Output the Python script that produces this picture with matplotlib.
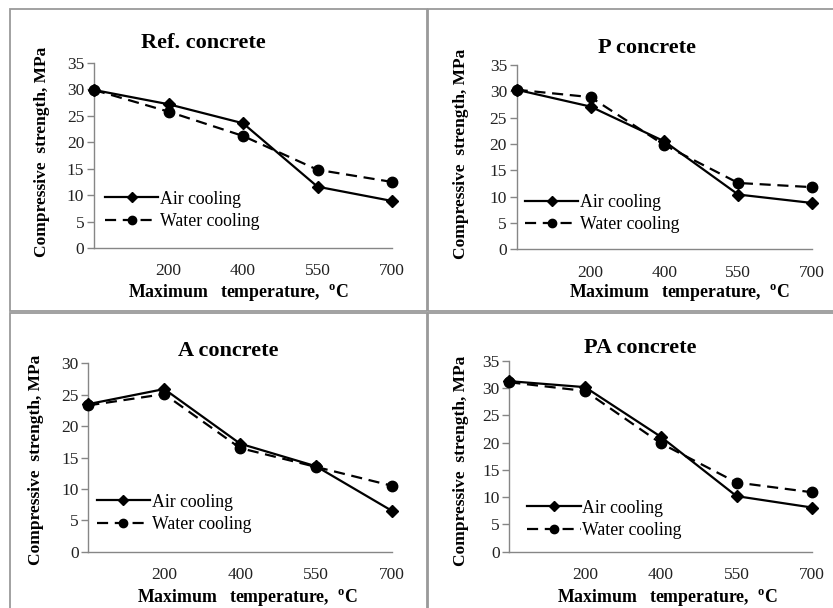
import matplotlib
matplotlib.use("Agg")
import matplotlib.pyplot as plt
from matplotlib.patches import Rectangle

plt.rcParams['font.family'] = ['Liberation Serif', 'DejaVu Serif']
plt.rcParams['mathtext.fontset'] = 'custom'
plt.rcParams['mathtext.rm'] = 'Liberation Serif'
plt.rcParams['mathtext.bf'] = 'Liberation Serif:bold'

categories = ['', '200', '400', '550', '700']

ref_air = [29.9, 27.2, 23.6, 11.6, 8.9]
ref_water = [29.9, 25.8, 21.2, 14.8, 12.5]
p_air = [30.3, 27.1, 20.5, 10.4, 8.8]
p_water = [30.3, 28.9, 19.8, 12.6, 11.8]
a_air = [23.5, 25.9, 17.2, 13.6, 6.5]
a_water = [23.3, 25.1, 16.5, 13.5, 10.5]
pa_air = [31.3, 30.2, 21.1, 10.2, 8.1]
pa_water = [31.1, 29.5, 19.9, 12.7, 10.9]

titles = ['Ref. concrete', 'P concrete', 'A concrete', 'PA concrete']
ymax = [35, 35, 30, 35]
W, H = 833, 608

# (left, right, top, bottom) in pixels
axes_px = [(94, 392, 63, 248), (516.7, 812, 65, 249.3),
           (88.3, 392, 363.3, 551.7), (509.3, 812.3, 361, 551.7)]
title_pos = [(0.366, 1.108), (0.441, 1.092), (0.462, 1.065), (0.431, 1.067)]
ylab_pos = [(-0.174, 0.52), (-0.189, 0.52), (-0.172, 0.49), (-0.159, 0.476)]
xlab_pos = [(0.483, -0.243), (0.55, -0.239), (0.524, -0.246), (0.52, -0.243)]
leg_pos = [(0.037, 0.097), (0.028, 0.088), (0.028, 0.099), (0.059, 0.067)]

series = [(ref_air, ref_water), (p_air, p_water), (a_air, a_water), (pa_air, pa_water)]

fig = plt.figure(figsize=(W / 100, H / 100), dpi=100)

# panel boxes
boxes = [(10, 9, 427, 311), (428, 9, 840, 311), (10, 313, 427, 620), (428, 313, 840, 620)]
for (x0, y0, x1, y1) in boxes:
    fig.add_artist(Rectangle((x0 / W, 1 - y1 / H), (x1 - x0) / W, (y1 - y0) / H,
                             transform=fig.transFigure, fill=False,
                             edgecolor='#9a9a9a', linewidth=1.3))

axcol = '#868686'
xs = list(range(len(categories)))
for i in range(4):
    l, r, t, b = axes_px[i]
    ax = fig.add_axes([l / W, 1 - b / H, (r - l) / W, (b - t) / H])
    air, water = series[i]
    ax.plot(xs, air, color='black', linewidth=1.6, marker='D', markersize=6.3,
            label='Air cooling', clip_on=False, zorder=4)
    ax.plot(xs, water, color='black', linewidth=1.6, linestyle=(0, (5, 3)),
            marker='o', markersize=7.5, label='Water cooling', clip_on=False, zorder=3)
    ax.set_xlim(0, len(categories) - 1)
    ax.set_ylim(0, ymax[i])
    ax.set_yticks(range(0, ymax[i] + 1, 5))
    ax.set_xticks(xs)
    ax.set_xticklabels(categories)
    for s in ['top', 'right']:
        ax.spines[s].set_visible(False)
    for s in ['left', 'bottom']:
        ax.spines[s].set_color(axcol)
        ax.spines[s].set_linewidth(1.0)
    ax.tick_params(axis='y', length=5, width=1.0, color=axcol, pad=2,
                   labelsize=12.5, labelcolor='#222222')
    ax.tick_params(axis='x', length=0, pad=11, labelsize=12.5, labelcolor='#222222')
    ax.set_facecolor('none')

    ax.text(title_pos[i][0], title_pos[i][1], titles[i], transform=ax.transAxes,
            ha='center', va='center', fontsize=16, fontweight='bold')
    ax.set_ylabel('Compressive  strength, MPa', fontsize=12.5, fontweight='bold')
    ax.yaxis.set_label_coords(*ylab_pos[i])
    ax.yaxis.label.set_va('center')
    ax.set_xlabel(r'Maximum   temperature,  $^{\mathbf{o}}$C', fontsize=12.8, fontweight='bold')
    ax.xaxis.set_label_coords(*xlab_pos[i])
    ax.xaxis.label.set_va('center')

    ax.legend(loc='lower left', bbox_to_anchor=leg_pos[i], frameon=False,
              fontsize=12.8, handlelength=3.0, handletextpad=0.1, borderpad=0,
              borderaxespad=0, labelspacing=0.3, markerscale=0.8)

fig.savefig('out.png', dpi=100)
